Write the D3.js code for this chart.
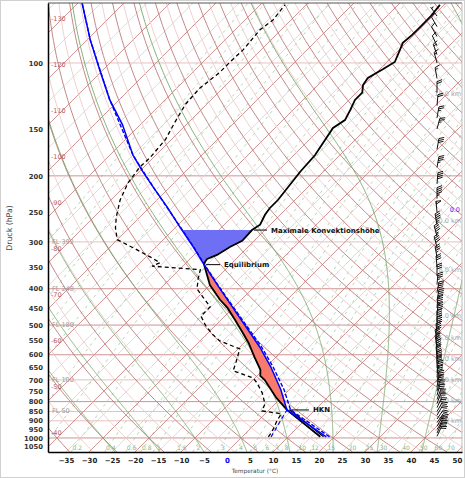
<!DOCTYPE html>
<html>
<head>
<meta charset="utf-8">
<script src="https://cdn.jsdelivr.net/npm/d3@7"></script>
<style>
body{margin:0;background:#fff;}
text{font-family:"DejaVu Sans",sans-serif;}
</style>
</head>
<body>
<div id="chart"></div>
<script>
// sounding: environment temperature (hPa, degC)
var tempP=[993,842,782,700,683,658,608,558,525,484,450,428,391,345,339,333,325,309,298,279,270,254,244,232,195,176,149,142,133,125.5,120,114.5,109.6,104,99.4,92.3,88.4,84.2,80.2,75.4,70];
var tempT=[17.0,3.9,-1.0,-7.5,-9.3,-10.6,-14.7,-19.0,-22.4,-27.0,-31.2,-34.6,-40.0,-45.7,-46.1,-46.3,-45.0,-43.9,-42.6,-42.8,-42.2,-43.3,-43.7,-43.7,-45.0,-45.4,-47.4,-46.5,-47.6,-48.7,-48.7,-50.2,-50.7,-49.3,-48.3,-49.8,-50.7,-50.4,-50.4,-50.4,-50.9];
// virtual temperature near the ground
var envTvP=[993,842];
var envTvT=[17.7,4.6];
// dewpoint
var dewP=[993,963,900,862,847,811,758,713,692,662,627,579,551,528,499,473,447,421,400,374,356,348,341,329,311,296,275,257,232,209,189,179,160,144,129,117,106,99.4,92.3,81.7,76.8,70];
var dewT=[5.7,5.4,4.1,3.5,-1.3,-2.2,-5.2,-8.5,-10.4,-16.3,-17.6,-19.6,-25.7,-28.9,-32.4,-35.2,-35.2,-38.9,-42.0,-44.1,-45.4,-56.7,-55.7,-59.1,-64.8,-70.0,-73.0,-75.2,-78.0,-80.0,-80.9,-80.7,-81.3,-83.0,-84.6,-85.0,-84.1,-84.1,-83.9,-84.6,-83.9,-84.6];
// lifted parcel
var parcelP=[993,842,744,646,572,506,456,396,345,309,274,242,214,193,176,146,125.5,104.4,86.8,69.2];
var parcelT=[18.3,3.9,-1.8,-9.0,-15.7,-23.0,-29.2,-37.6,-45.7,-52.0,-59.1,-66.3,-73.7,-79.8,-85.0,-93.9,-102.0,-110.7,-119.3,-129.1];
var parcelTvP=[993,842,744,646,572,506,456,396,345,309,274,214,176,125.5,86.8,69.2];
var parcelTvT=[19.0,4.7,-1.1,-8.5,-15.3,-22.7,-29.0,-37.5,-45.6,-51.9,-59.0,-73.7,-85.0,-102.0,-119.3,-129.1];
var parcelDewP=[993,842];
var parcelDewT=[6.3,3.9];
// levels
var lclP=842, elP=345, mkhP=279;
// wind (deg, kt)
var windP=[990,970,950,930,910,890,870,850,830,810,790,770,750,730,710,690,670,650,630,610,590,570,550,530,510,490,470,450,430,410,390,370,350,330,310,290,270,250,230,210,190,170,150,140,130,120,110,100,95,90,85,80,75];
var windDir=[25,25,30,30,35,35,30,30,25,20,20,15,15,10,10,5,5,0,0,355,355,350,350,355,0,0,5,5,10,10,5,0,355,350,345,345,350,355,0,5,10,10,15,10,5,0,350,345,340,335,330,330,325];
var windSpd=[20,25,25,25,25,20,20,20,25,25,30,30,30,35,35,35,35,35,40,40,40,45,45,40,40,40,40,45,45,40,35,30,30,35,40,45,45,50,45,40,35,30,25,25,20,20,15,15,15,10,10,10,5];
// axis ticks and labels
var pressureTicks=[100,150,200,250,300,350,400,450,500,550,600,650,700,750,800,850,900,950,1000,1050];
var tempTicks=[-35,-30,-25,-20,-15,-10,-5,0,5,10,15,20,25,30,35,40,45,50];
var isoLabelT=[-130,-120,-110,-100,-90,-80,-70,-60,-50,-40];
var flP=[300,400,500,700,850];
var flText=["FL 392","FL 248","FL 180","FL 100","FL 50"];
var heightKm=[1,2,3,4,5,6,8,10,15];
var heightP=[899,795,701,616,540,472,356,264,121];
var isobarP=[100,200,300,400,500,600,700,800,850,900,1000];
var mixRatios=[0.001,0.002,0.005,0.01,0.02,0.05,0.1,0.2,0.4,0.6,0.8,1,1.5,2,3,4,5,6,7,8,10,12,15,20,25,30,40,50,60,70];

var W=465,H=478;
var pL=48,pR=462,pT=3,pB=452;
var y=d3.scaleLog().domain([1090,69.2]).range([pB,pT]);
var xs=d3.scaleLinear().domain([-38.9,51.1]).range([pL,pR]);
function sx(T,p){return xs(T)+(pB-y(p));}
function zip(P,T){return P.map(function(p,i){return [p,T[i]];});}
var line=d3.line().x(function(d){return sx(d[1],d[0]);}).y(function(d){return y(d[0]);});

var svg=d3.select("#chart").append("svg").attr("width",W).attr("height",H);
svg.append("rect").attr("x",0.5).attr("y",0.5).attr("width",W-1).attr("height",H-1)
  .attr("fill","#fff").attr("stroke","#d0d0d0");
svg.append("clipPath").attr("id","plot").append("rect")
  .attr("x",pL).attr("y",pT).attr("width",pR-pL).attr("height",pB-pT);
var g=svg.append("g").attr("clip-path","url(#plot)");

var pGrid=d3.range(0,61).map(function(i){return 1090*Math.pow(69.2/1090,i/60);});

// mixing ratio lines
mixRatios.forEach(function(w){
  var pts=pGrid.map(function(p){
    var e=w*p/(622+w), l=Math.log(e/6.112);
    return [p,243.5*l/(17.67-l)];
  });
  g.append("path").attr("d",line(pts)).attr("fill","none")
    .attr("stroke","#a3cca3").attr("stroke-width",0.8).attr("stroke-dasharray","3,4");
});

// isobars
isobarP.forEach(function(p){
  var strong=[200,400,500,600,800,1000].indexOf(p)>=0;
  g.append("line").attr("x1",pL).attr("x2",pR).attr("y1",y(p)).attr("y2",y(p))
    .attr("stroke",strong?"#cf9393":"#e8c0c0").attr("stroke-width",1);
});

// isotherms
d3.range(-140,55,5).forEach(function(T){
  var strong=T%10===0;
  g.append("path").attr("d",line([[1090,T],[69.2,T]])).attr("fill","none")
    .attr("stroke",strong?"#c98585":"#ecc9c9").attr("stroke-width",strong?0.9:0.8);
});

// dry adiabats
d3.range(-40,225,5).forEach(function(t0){
  var strong=t0%10===0, th=t0+273.15;
  var pts=pGrid.map(function(p){return [p,th*Math.pow(p/1000,0.2857)-273.15];});
  g.append("path").attr("d",line(pts)).attr("fill","none")
    .attr("stroke",strong?"#c07a7a":"#eac4c4").attr("stroke-width",strong?0.9:0.8);
});

// moist adiabats
function moist(t0){
  var Rd=287.04,cp=1005.7,Lv=2.501e6,eps=0.622;
  function f(p,Tc){
    var T=Tc+273.15, es=6.112*Math.exp(17.67*Tc/(Tc+243.5)), rs=eps*es/(p-es);
    return (Rd*T+Lv*rs)/(p*(cp+Lv*Lv*rs*eps/(Rd*T*T)));
  }
  function run(p,T,dp,pend){
    var out=[];
    while((dp<0&&p>pend)||(dp>0&&p<pend)){
      var k1=f(p,T), k2=f(p+dp/2,T+k1*dp/2);
      T+=k2*dp; p+=dp; out.push([p,T]);
    }
    return out;
  }
  var up=run(1000,t0,-2,68), down=run(1000,t0,2,1092);
  return down.reverse().concat([[1000,t0]]).concat(up);
}
d3.range(-30,55,10).forEach(function(t0){
  g.append("path").attr("d",line(moist(t0))).attr("fill","none")
    .attr("stroke","#79a86b").attr("stroke-width",0.9);
});

// CAPE and overshoot areas
var parcelPts=zip(parcelP,parcelT), envPts=zip(tempP,tempT);
var redPts=parcelPts.filter(function(d){return d[0]<=lclP&&d[0]>=elP;})
  .concat(envPts.filter(function(d){return d[0]<=lclP&&d[0]>=elP;}).reverse());
g.append("path").attr("d",line(redPts)+"Z").attr("fill","#f77a6c").attr("stroke","none");
svg.append("clipPath").attr("id","mkh").append("rect")
  .attr("x",pL).attr("y",y(mkhP)).attr("width",pR-pL).attr("height",y(elP)-y(mkhP));
var bluePts=parcelPts.filter(function(d){return d[0]<=elP&&d[0]>=240;})
  .concat(envPts.filter(function(d){return d[0]<=elP&&d[0]>=240;}).reverse());
g.append("g").attr("clip-path","url(#mkh)").append("path").attr("d",line(bluePts)+"Z")
  .attr("fill","#6f6ff6").attr("stroke","none");

// profiles
g.append("path").attr("d",line(zip(envTvP,envTvT))).attr("fill","none")
  .attr("stroke","#000").attr("stroke-width",1.2);
g.append("path").attr("d",line(envPts)).attr("fill","none")
  .attr("stroke","#000").attr("stroke-width",1.8);
g.append("path").attr("d",line(zip(dewP,dewT))).attr("fill","none")
  .attr("stroke","#000").attr("stroke-width",1.3).attr("stroke-dasharray","4,3");
g.append("path").attr("d",line(zip(parcelTvP,parcelTvT))).attr("fill","none")
  .attr("stroke","#0000ff").attr("stroke-width",1.4).attr("stroke-dasharray","4,2");
g.append("path").attr("d",line(parcelPts)).attr("fill","none")
  .attr("stroke","#0000ff").attr("stroke-width",1.5);
g.append("path").attr("d",line(zip(parcelDewP,parcelDewT))).attr("fill","none")
  .attr("stroke","#0000ff").attr("stroke-width",1.2).attr("stroke-dasharray","4,3");

// left labels: isotherms and flight levels
isoLabelT.forEach(function(T){
  var yy=pB-(62-xs(T));
  svg.append("text").attr("x",51).attr("y",yy+2.5).attr("font-size",6.5)
    .attr("fill","#b55a5a").text(T);
});
flP.forEach(function(p,i){
  svg.append("text").attr("x",52).attr("y",y(p)+2).attr("font-size",6.5)
    .attr("fill","#9a9a9a").text(flText[i]);
});
// mixing ratio labels
mixRatios.forEach(function(w){
  var e=w*1050/(622+w), l=Math.log(e/6.112), td=243.5*l/(17.67-l);
  var xx=sx(td,1050)+2;
  if(xx<55||xx>458) return;
  svg.append("text").attr("x",xx).attr("y",450).attr("text-anchor","middle")
    .attr("font-size",6).attr("fill","#86b686").text(w);
});
// height labels
heightKm.forEach(function(h,i){
  svg.append("text").attr("x",461).attr("y",y(heightP[i])+2).attr("text-anchor","end")
    .attr("font-size",6.5).attr("fill","#a8a8a8").text(h.toFixed(1)+" km");
});
// freezing level label
svg.append("text").attr("x",460).attr("y",pB-(pR-xs(0))-5).attr("text-anchor","end")
  .attr("font-size",6.5).attr("fill","#3333ff").text("0.0");

// wind barbs
var bg=svg.append("g").attr("stroke","#111").attr("stroke-width",1).attr("fill","none");
windP.forEach(function(p,i){
  var r=windDir[i]*Math.PI/180, ux=Math.sin(r), uy=-Math.cos(r);
  var px=-uy, py=ux, L=11, x0=437, y0=y(p);
  var d="M"+x0+","+y0+"L"+(x0+ux*L)+","+(y0+uy*L);
  var s=Math.round(windSpd[i]/5)*5, pos=L;
  while(s>=50){
    var ax=x0+ux*pos, ay=y0+uy*pos, bx=x0+ux*(pos-3), by=y0+uy*(pos-3);
    d+="M"+ax+","+ay+"L"+(ax+px*5)+","+(ay+py*5)+"L"+bx+","+by+"Z";
    pos-=4; s-=50;
  }
  while(s>=10){
    var cx=x0+ux*pos, cy=y0+uy*pos;
    d+="M"+cx+","+cy+"L"+(cx+px*5+ux*2)+","+(cy+py*5+uy*2);
    pos-=2; s-=10;
  }
  if(s>=5){
    if(pos===L) pos-=2;
    var hx=x0+ux*pos, hy=y0+uy*pos;
    d+="M"+hx+","+hy+"L"+(hx+px*2.5+ux*1)+","+(hy+py*2.5+uy*1);
  }
  bg.append("path").attr("d",d);
});

// annotations
var notes=[{t:"Maximale Konvektionshöhe",p:mkhP,T:-42.8,len:13},
           {t:"Equilibrium",p:elP,T:-45.7,len:14},
           {t:"HKN",p:lclP,T:3.9,len:20}];
notes.forEach(function(n){
  var x0=sx(n.T,n.p)+2, y0=y(n.p);
  svg.append("line").attr("x1",x0).attr("x2",x0+n.len).attr("y1",y0).attr("y2",y0)
    .attr("stroke","#000").attr("stroke-width",1);
  svg.append("text").attr("x",x0+n.len+4).attr("y",y0+2.5).attr("font-size",7)
    .attr("font-weight","bold").attr("fill","#111").text(n.t);
});

// frame
svg.append("line").attr("x1",pL).attr("x2",pR).attr("y1",pT).attr("y2",pT).attr("stroke","#555");
svg.append("line").attr("x1",pR).attr("x2",pR).attr("y1",pT).attr("y2",pB).attr("stroke","#bbb");

// axes
var yAxis=svg.append("g").attr("transform","translate("+pL+",0)")
  .call(d3.axisLeft(y).tickValues(pressureTicks).tickFormat(d3.format("d")).tickSize(0).tickSizeOuter(0).tickPadding(5));
yAxis.select(".domain").attr("stroke","#000").attr("stroke-width",1.5);
yAxis.selectAll("text").attr("font-size",6.8).attr("font-weight","bold").attr("fill","#333")
  .attr("font-family","DejaVu Sans");
var xAxis=svg.append("g").attr("transform","translate(0,"+pB+")")
  .call(d3.axisBottom(xs).tickValues(tempTicks).tickFormat(d3.format("d")).tickSize(0).tickSizeOuter(0).tickPadding(6));
xAxis.select(".domain").attr("stroke","#000").attr("stroke-width",1.5);
xAxis.selectAll("text").attr("font-size",7).attr("font-weight","bold").attr("font-family","DejaVu Sans")
  .attr("fill",function(d){return d===0?"#0000ff":"#222";});

svg.append("text").attr("transform","translate(12,228) rotate(-90)").attr("text-anchor","middle")
  .attr("font-size",7.8).attr("fill","#444").text("Druck (hPa)");
svg.append("text").attr("x",(pL+pR)/2).attr("y",473).attr("text-anchor","middle")
  .attr("font-size",5.8).attr("fill","#444").text("Temperatur (°C)");
</script>
</body>
</html>
